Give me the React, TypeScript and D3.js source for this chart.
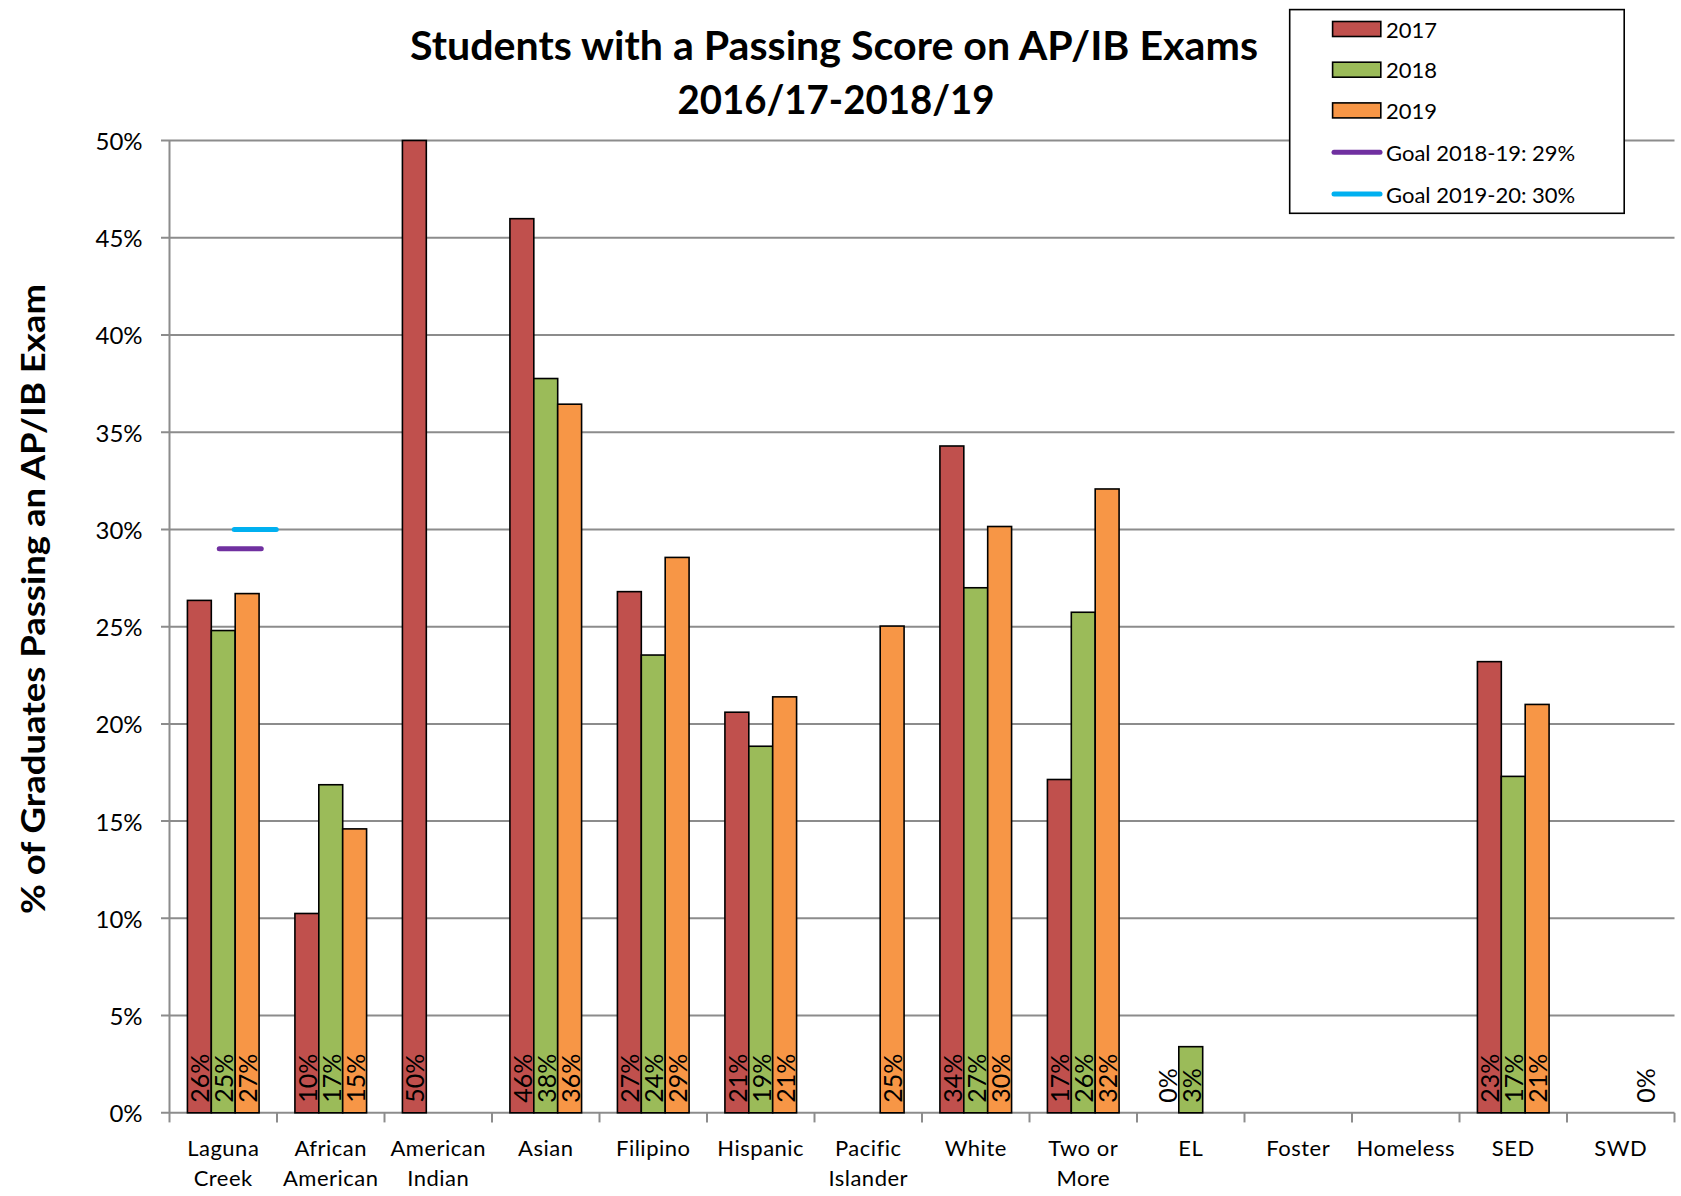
import React, { useEffect } from "react";
import * as d3 from "d3";

const categories: string[][] = [
  ["Laguna", "Creek"],
  ["African", "American"],
  ["American", "Indian"],
  ["Asian"],
  ["Filipino"],
  ["Hispanic"],
  ["Pacific", "Islander"],
  ["White"],
  ["Two or", "More"],
  ["EL"],
  ["Foster"],
  ["Homeless"],
  ["SED"],
  ["SWD"],
];

const series = ["2017", "2018", "2019"];

const values2017: (number | null)[] = [26.35, 10.25, 50, 45.98, 26.8, 20.6, null, 34.29, 17.14, 0, null, null, 23.2, null];
const values2018: (number | null)[] = [24.8, 16.87, null, 37.76, 23.54, 18.85, null, 27.0, 25.74, 3.4, null, null, 17.3, null];
const values2019: (number | null)[] = [26.7, 14.6, null, 36.44, 28.56, 21.39, 25.03, 30.15, 32.08, null, null, null, 21.0, 0];

const goalLabels = ["Goal 2018-19: 29%", "Goal 2019-20: 30%"];
const goalValues = [29, 30];

const yTicks = [0, 5, 10, 15, 20, 25, 30, 35, 40, 45, 50];

const seriesColors = ["#C0504D", "#9BBB59", "#F79646"];
const goalColors = ["#7030A0", "#00B0F0"];

const FONT = "Lato, 'Open Sans', sans-serif";

export default function App() {
  useEffect(() => {
    document.body.style.margin = "0";
  }, []);

  const W = 1681;
  const H = 1196;
  const left = 169.5;
  const right = 1674.5;
  const top = 140.5;
  const bottom = 1112.8;

  const keys = categories.map((c) => c.join(" "));
  const x = d3.scaleBand<string>().domain(keys).range([left, right]).paddingInner(0).paddingOuter(0);
  const xs = d3.scaleBand<string>().domain(series).range([0, x.bandwidth()]).paddingInner(0).paddingOuter(0.75);
  const y = d3.scaleLinear().domain([0, 50]).range([bottom, top]);
  const fmt = (v: number) => d3.format(".0f")(v) + "%";

  const allSeries = [values2017, values2018, values2019];

  const bars: { cat: string; s: string; v: number; color: string }[] = [];
  allSeries.forEach((vals, si) => {
    vals.forEach((v, ci) => {
      if (v !== null) bars.push({ cat: keys[ci], s: series[si], v, color: seriesColors[si] });
    });
  });

  // goal line segments (drawn in first category)
  const c0 = (x(keys[0]) as number) + x.bandwidth() / 2;
  const goalOffsets = [
    [-4, 38],
    [11, 53],
  ];

  const gridColor = "#8C8C8C";

  const legendX = 1289.7;
  const legendY = 9.6;
  const legendW = 334.5;
  const legendH = 203.7;
  const rowY = [29, 69.7, 110.4, 152.2, 194];

  return (
    <svg width={W} height={H} style={{ display: "block", position: "absolute", left: 0, top: 0, background: "#fff" }} fontFamily={FONT}>
      <rect x={0} y={0} width={W} height={H} fill="#fff" />
      {/* gridlines */}
      {yTicks.map((t) => (
        <line key={"g" + t} x1={161} x2={right} y1={y(t)} y2={y(t)} stroke={gridColor} strokeWidth={2} />
      ))}
      {/* y axis line */}
      <line x1={left} x2={left} y1={top} y2={bottom} stroke={gridColor} strokeWidth={2} />
      {/* x ticks */}
      {keys.map((k, i) => (
        <line key={"xt" + i} x1={x(k) as number} x2={x(k) as number} y1={bottom} y2={bottom + 9.6} stroke={gridColor} strokeWidth={2} />
      ))}
      <line x1={right} x2={right} y1={bottom} y2={bottom + 9.6} stroke={gridColor} strokeWidth={2} />
      {/* y tick labels */}
      {yTicks.map((t) => (
        <text key={"yl" + t} x={142.6} y={y(t)} textAnchor="end" dominantBaseline="central" fontSize={24} fill="#000">
          {fmt(t)}
        </text>
      ))}
      {/* bars */}
      {bars.map((b, i) => {
        const bx = (x(b.cat) as number) + (xs(b.s) as number);
        const by = y(b.v);
        return (
          <rect key={"b" + i} x={bx} y={by} width={xs.bandwidth()} height={bottom - by} fill={b.color} stroke="#000" strokeWidth={1.6} />
        );
      })}
      {/* data labels */}
      {bars.map((b, i) => {
        const cx = (x(b.cat) as number) + (xs(b.s) as number) + xs.bandwidth() / 2;
        const cy = bottom - 10;
        return (
          <text key={"dl" + i} transform={`translate(${cx},${cy}) rotate(-90)`} textAnchor="start" dominantBaseline="central" fontSize={25} fill="#000">
            {fmt(b.v)}
          </text>
        );
      })}
      {/* goal lines */}
      {goalValues.map((g, i) => (
        <line key={"goal" + i} x1={c0 + goalOffsets[i][0]} x2={c0 + goalOffsets[i][1]} y1={y(g)} y2={y(g)} stroke={goalColors[i]} strokeWidth={5} strokeLinecap="round" />
      ))}
      {/* category labels */}
      {categories.map((lines, i) => {
        const cx = (x(keys[i]) as number) + x.bandwidth() / 2;
        return (
          <text key={"cl" + i} textAnchor="middle" fontSize={22} fill="#000" letterSpacing={0.5}>
            {lines.map((ln, j) => (
              <tspan key={j} x={cx} y={1147 + j * 30} dominantBaseline="central">
                {ln}
              </tspan>
            ))}
          </text>
        );
      })}
      {/* title */}
      <text x={834} y={45} textAnchor="middle" dominantBaseline="central" fontSize={40} fontWeight="bold" textLength={848} lengthAdjust="spacingAndGlyphs">
        Students with a Passing Score on AP/IB Exams
      </text>
      <text x={836} y={98.6} textAnchor="middle" dominantBaseline="central" fontSize={40} fontWeight="bold" textLength={317} lengthAdjust="spacingAndGlyphs">
        2016/17-2018/19
      </text>
      {/* y axis title */}
      <text transform="translate(32,599) rotate(-90)" textAnchor="middle" dominantBaseline="central" fontSize={32} fontWeight="bold" textLength={630} lengthAdjust="spacingAndGlyphs">
        % of Graduates Passing an AP/IB Exam
      </text>
      {/* legend */}
      <rect x={legendX} y={legendY} width={legendW} height={legendH} fill="#fff" stroke="#000" strokeWidth={1.6} />
      {series.map((s, i) => (
        <g key={"lg" + i}>
          <rect x={1332.6} y={rowY[i] - 7.5} width={48.2} height={15} fill={seriesColors[i]} stroke="#000" strokeWidth={1.6} />
          <text x={1386} y={rowY[i]} dominantBaseline="central" fontSize={22}>
            {s}
          </text>
        </g>
      ))}
      {goalLabels.map((g, i) => (
        <g key={"lgg" + i}>
          <line x1={1334} x2={1380} y1={rowY[3 + i]} y2={rowY[3 + i]} stroke={goalColors[i]} strokeWidth={5} strokeLinecap="round" />
          <text x={1386} y={rowY[3 + i]} dominantBaseline="central" fontSize={22}>
            {g}
          </text>
        </g>
      ))}
    </svg>
  );
}
